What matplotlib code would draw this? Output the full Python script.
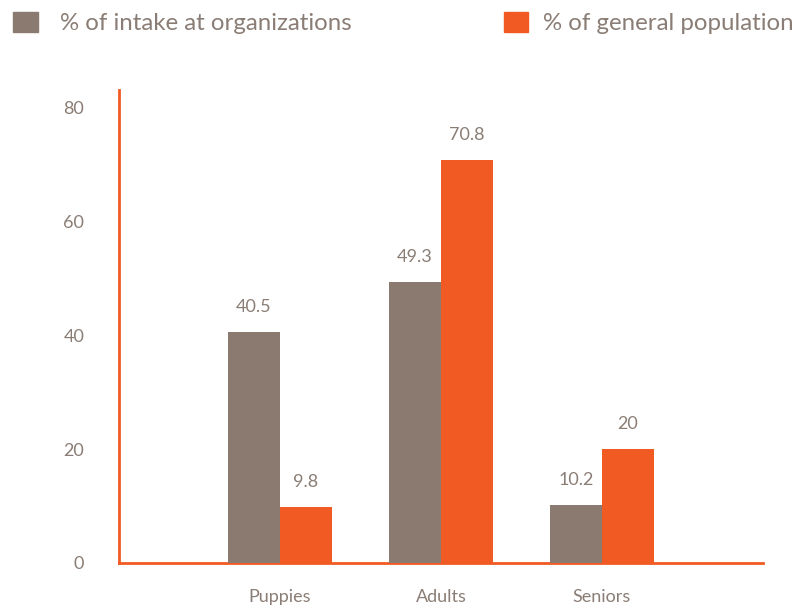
import matplotlib
matplotlib.use('Agg')
import matplotlib.pyplot as plt
from matplotlib.patches import Rectangle

categories = ['Puppies', 'Adults', 'Seniors']
intake = [40.5, 49.3, 10.2]
population = [9.8, 70.8, 20]
intake_labels = ['40.5', '49.3', '10.2']
population_labels = ['9.8', '70.8', '20']
series_names = ['% of intake at organizations', '% of general population']

GREY = '#8a7a70'
ORANGE = '#f15a22'
TEXT = '#8a7d75'

plt.rcParams['font.family'] = ['Lato', 'DejaVu Sans']

fig = plt.figure(figsize=(7.98, 6.07), dpi=100)
ax = fig.add_axes([0.149, 0.0725, 0.807, 0.779])

x = [1, 2, 3]
w = 0.323
ax.bar([p - w / 2 for p in x], intake, width=w, color=GREY, zorder=3)
ax.bar([p + w / 2 for p in x], population, width=w, color=ORANGE, zorder=3)

for p, v, s in zip(x, intake, intake_labels):
    ax.text(p - w / 2, v + 3.0, s, ha='center', va='bottom', color=TEXT, fontsize=13)
for p, v, s in zip(x, population, population_labels):
    ax.text(p + w / 2, v + 3.0, s, ha='center', va='bottom', color=TEXT, fontsize=13)

ax.set_xlim(0, 4)
ax.set_ylim(0, 83)
ax.set_xticks(x)
ax.set_xticklabels(categories)
ax.set_yticks([0, 20, 40, 60, 80])
ax.tick_params(length=0, colors=TEXT, labelsize=13)
ax.tick_params(axis='x', pad=19)
ax.tick_params(axis='y', pad=25)

for side in ['top', 'right']:
    ax.spines[side].set_visible(False)
for side in ['left', 'bottom']:
    ax.spines[side].set_color(ORANGE)
    ax.spines[side].set_linewidth(2)

# legend drawn by hand at the top
fig.patches.append(Rectangle((13 / 798, 1 - 32 / 607), 25 / 798, 20 / 607,
                             transform=fig.transFigure, color=GREY))
fig.text(60 / 798, 1 - 23 / 607, series_names[0], color=TEXT, fontsize=17.3, va='center')
fig.patches.append(Rectangle((504 / 798, 1 - 32 / 607), 24 / 798, 20 / 607,
                             transform=fig.transFigure, color=ORANGE))
fig.text(543 / 798, 1 - 23 / 607, series_names[1], color=TEXT, fontsize=17.3, va='center')

fig.savefig('out.png', dpi=100)
